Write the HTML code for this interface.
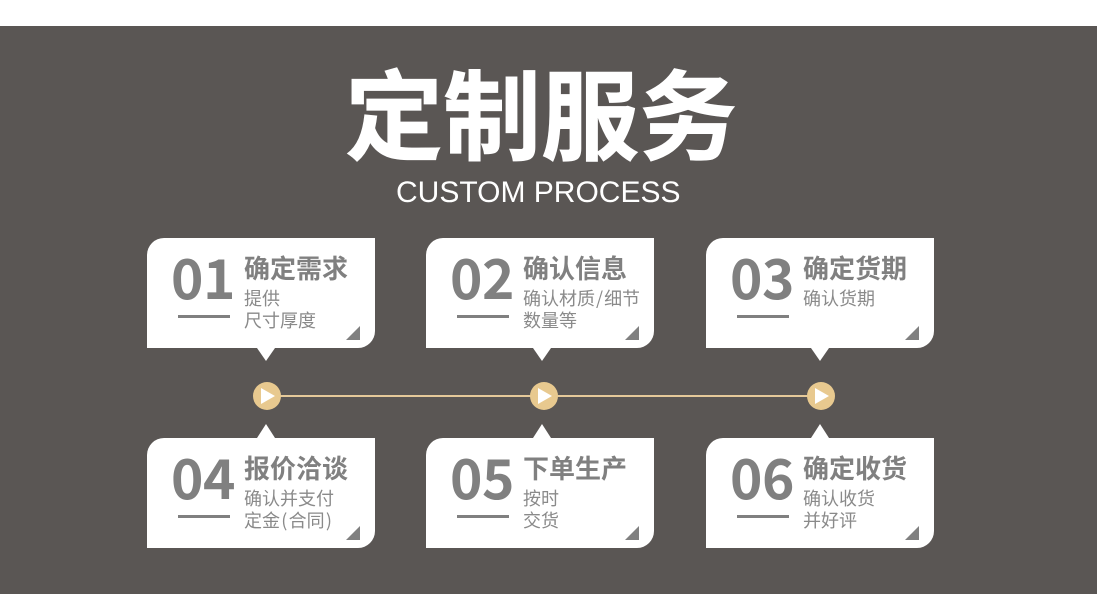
<!DOCTYPE html>
<html>
<head>
<meta charset="utf-8">
<style>
html,body{margin:0;padding:0;background:#fff;}
#p{position:relative;width:1097px;height:605px;overflow:hidden;background:#fff;font-family:"Liberation Sans","Noto Sans CJK SC",sans-serif;}
#b{position:absolute;left:0;top:26px;width:1097px;height:568px;background:#5a5654;}
.a{position:absolute;white-space:nowrap;}
#t{left:345px;top:45px;font-size:98px;line-height:130px;font-weight:700;color:#fff;letter-spacing:0;font-family:"Noto Sans CJK SC",sans-serif;-webkit-text-stroke:.8px #fff;}
#e{left:396px;top:175px;font-size:30px;line-height:36px;color:#fff;letter-spacing:0;}
.c{position:absolute;width:228px;height:110px;background:#fff;border-radius:17px 0 17px 0;}
.n{position:absolute;left:24px;top:3px;font-size:55px;line-height:68px;font-weight:700;color:#808080;letter-spacing:-.5px;font-family:"Noto Sans CJK SC",sans-serif;}
.h{position:absolute;left:97px;top:11px;font-size:26px;line-height:38px;font-weight:700;color:#808080;white-space:nowrap;font-family:"Noto Sans CJK SC",sans-serif;}
.s{position:absolute;left:97px;top:49px;font-size:18px;line-height:22px;color:#8a8a8a;white-space:nowrap;font-family:"Noto Sans CJK SC",sans-serif;}
.s span{margin:0 1.25px;}
.l{position:absolute;left:31px;top:77px;width:52px;height:3px;background:#808080;}
.k{position:absolute;left:199px;top:88px;width:0;height:0;border-left:14px solid transparent;border-bottom:14px solid #808080;}
.d{position:absolute;width:0;height:0;border-left:9px solid transparent;border-right:9px solid transparent;}
.dn{top:348px;border-top:13px solid #fff;}
.up{top:424px;border-bottom:14px solid #fff;}
#r{position:absolute;left:267px;top:395px;width:554px;height:1.5px;background:#e5c99a;}
.o{position:absolute;top:382px;width:28px;height:28px;border-radius:50%;background:#e8c98f;}
.o:after{content:"";position:absolute;left:8px;top:6px;width:0;height:0;border-left:14px solid #fff;border-top:8px solid transparent;border-bottom:8px solid transparent;}
</style>
</head>
<body>
<div id="p">
<div id="b"></div>
<div id="t" class="a">定制服务</div>
<div id="e" class="a">CUSTOM PROCESS</div>

<div class="c" style="left:147px;top:238px"><div class="n">01</div><div class="h">确定需求</div><div class="s">提供<br>尺寸厚度</div><div class="l"></div><div class="k"></div></div>
<div class="c" style="left:426px;top:238px"><div class="n">02</div><div class="h">确认信息</div><div class="s">确认材质<span style="margin:0 1px">/</span>细节<br>数量等</div><div class="l"></div><div class="k"></div></div>
<div class="c" style="left:706px;top:238px"><div class="n">03</div><div class="h">确定货期</div><div class="s">确认货期</div><div class="l"></div><div class="k"></div></div>

<div class="d dn" style="left:257px"></div>
<div class="d dn" style="left:533px"></div>
<div class="d dn" style="left:811px"></div>

<div id="r"></div>
<div class="o" style="left:253px"></div>
<div class="o" style="left:530px"></div>
<div class="o" style="left:807px"></div>

<div class="d up" style="left:257px"></div>
<div class="d up" style="left:533px"></div>
<div class="d up" style="left:811px"></div>

<div class="c" style="left:147px;top:438px"><div class="n">04</div><div class="h">报价洽谈</div><div class="s">确认并支付<br>定金<span>(</span>合同<span>)</span></div><div class="l"></div><div class="k"></div></div>
<div class="c" style="left:426px;top:438px"><div class="n">05</div><div class="h">下单生产</div><div class="s">按时<br>交货</div><div class="l"></div><div class="k"></div></div>
<div class="c" style="left:706px;top:438px"><div class="n">06</div><div class="h">确定收货</div><div class="s">确认收货<br>并好评</div><div class="l"></div><div class="k"></div></div>
</div>
</body>
</html>
